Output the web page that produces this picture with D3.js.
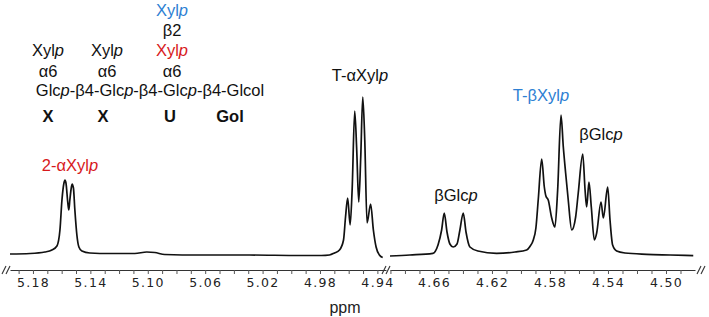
<!DOCTYPE html>
<html>
<head>
<meta charset="utf-8">
<script src="https://cdn.jsdelivr.net/npm/d3@7"></script>
<style>
  body { margin: 0; background: #fff; }
  text { font-family: "Liberation Sans", Arial, sans-serif; }
</style>
</head>
<body>
<script>
// spectrum: [ppm, intensity (a.u.)]
var leftSpectrum = [
    [5.196, 1], [5.182, 1.5], [5.1717, 3], [5.1668, 5], [5.1633, 9], [5.1612, 25],
    [5.1598, 55], [5.1584, 72], [5.1577, 75], [5.1570, 72], [5.1557, 52], [5.1550, 45],
    [5.1543, 55], [5.1532, 68], [5.1527, 71], [5.1518, 67], [5.1508, 45], [5.1494, 20],
    [5.1480, 8], [5.1459, 4], [5.1403, 2], [5.1264, 1.5], [5.1090, 1.5], [5.1007, 3],
    [5.0951, 2.5], [5.0882, 0.5], [5.0638, 0], [5.0290, 0], [4.9943, -0.5], [4.9790, -0.5],
    [4.9734, 0], [4.9699, 2], [4.9664, 5], [4.9636, 15], [4.9622, 38], [4.9607, 57],
    [4.9590, 30], [4.9576, 65], [4.9558, 144], [4.9544, 105], [4.9530, 53], [4.9516, 98],
    [4.9502, 158], [4.9488, 115], [4.9472, 32], [4.9447, 51], [4.9428, 25], [4.9409, 8],
    [4.9386, 0], [4.9363, -2.5]
];

var rightSpectrum = [
    [4.6903, -1], [4.6766, 0], [4.6607, 1.7], [4.6572, 10], [4.6547, 25], [4.6529, 42],
    [4.6510, 23], [4.6490, 11], [4.6467, 8], [4.6441, 11], [4.6421, 25], [4.6398, 42],
    [4.6379, 23], [4.6352, 8], [4.6297, 4], [4.6168, 1.7], [4.6041, 3], [4.5961, 5],
    [4.5938, 8.5], [4.5915, 15], [4.5897, 27], [4.5881, 55], [4.5857, 96], [4.5839, 68],
    [4.5828, 59], [4.5812, 55], [4.5788, 37], [4.5766, 28], [4.5747, 65], [4.5724, 140],
    [4.5708, 108], [4.5692, 82], [4.5674, 55], [4.5650, 25], [4.5623, 38], [4.5605, 62],
    [4.5574, 101], [4.5558, 65], [4.5547, 48], [4.5531, 73], [4.5515, 48], [4.5494, 15],
    [4.5478, 22], [4.5448, 53], [4.5432, 37], [4.5402, 68], [4.5386, 35], [4.5368, 10],
    [4.5340, 4], [4.5283, 2], [4.5133, 0.7], [4.4972, 0], [4.4812, -0.7]
];

var leftTickLabels = [5.18, 5.14, 5.10, 5.06, 5.02, 4.98, 4.94];
var rightTickLabels = [4.66, 4.62, 4.58, 4.54, 4.50];

var red = '#d7191c', blue = '#2e7fd3';

var svgWidth = 709, svgHeight = 317;
var axisY = 270;

var svg = d3.select('body')
    .append('svg')
    .attr('width', svgWidth)
    .attr('height', svgHeight);

// scales, one per axis segment
var xLeft = d3.scaleLinear().domain([5.196, 4.934]).range([10, 386]);
var xRight = d3.scaleLinear().domain([4.6903, 4.48]).range([390, 695]);
var yScale = d3.scaleLinear().domain([0, 158]).range([255, 97]);

function drawSegment(x, data, labels) {
    var minor = d3.range(Math.ceil(x.domain()[1] * 100), Math.floor(x.domain()[0] * 100) + 1)
        .map(d => d / 100);
    var axis = d3.axisBottom(x)
        .tickValues(minor)
        .tickSize(4)
        .tickSizeOuter(0)
        .tickFormat(d => labels.some(l => Math.abs(l - d) < 1e-6) ? d3.format('.2f')(d) : '');

    var g = svg.append('g')
        .attr('transform', `translate(0, ${ axisY })`)
        .call(axis);
    g.select('.domain').attr('stroke', '#333').attr('stroke-width', 1);
    g.selectAll('.tick line').attr('stroke', '#555');
    g.selectAll('.tick text')
        .attr('y', 8)
        .attr('fill', '#222')
        .style('font-family', '"DejaVu Sans", Verdana, sans-serif')
        .style('font-size', '12.5px')
        .style('letter-spacing', '1.3px');

    var line = d3.line()
        .x(d => x(d[0]))
        .y(d => yScale(d[1]))
        .curve(d3.curveMonotoneX);

    svg.append('path')
        .datum(data)
        .attr('fill', 'none')
        .attr('stroke', '#111')
        .attr('stroke-width', 1.7)
        .attr('stroke-linejoin', 'round')
        .attr('d', line);
}

drawSegment(xLeft, leftSpectrum, leftTickLabels);
drawSegment(xRight, rightSpectrum, rightTickLabels);

// axis break marks
function breakMark(x0) {
    [0, 4].forEach(off => {
        svg.append('line')
            .attr('x1', x0 + off).attr('y1', axisY + 4)
            .attr('x2', x0 + off + 4).attr('y2', axisY - 4)
            .attr('stroke', '#333')
            .attr('stroke-width', 1.1);
    });
}
breakMark(2);
breakMark(382);
breakMark(697);

svg.append('text')
    .attr('x', 345).attr('y', 313)
    .attr('text-anchor', 'middle')
    .style('font-size', '16px')
    .attr('fill', '#222')
    .text('ppm');

// text helper: parts are [string, italic?]
function label(x, y, parts, color, opts) {
    opts = opts || {};
    var t = svg.append('text')
        .attr('x', x).attr('y', y)
        .attr('text-anchor', 'middle')
        .attr('fill', color || '#111')
        .style('font-size', (opts.size || 16.5) + 'px')
        .style('font-weight', opts.bold ? 'bold' : 'normal');
    parts.forEach(p => {
        t.append('tspan')
            .style('font-style', p[1] ? 'italic' : 'normal')
            .text(p[0]);
    });
}

var xylp = [['Xyl'], ['p', true]];

// structure drawing
label(172, 16, xylp, blue);
label(172, 36, [['β2']]);
label(172, 56, xylp, red);
label(48, 56, xylp);
label(107, 56, xylp);
label(48, 77, [['α6']]);
label(107, 77, [['α6']]);
label(172, 77, [['α6']]);
label(150, 96, [['Glc'], ['p', true], ['-β4-Glc'], ['p', true], ['-β4-Glc'], ['p', true], ['-β4-Glcol']]);
label(48, 122, [['X']], null, { bold: true });
label(103, 122, [['X']], null, { bold: true });
label(170, 122, [['U']], null, { bold: true });
label(230, 122, [['Gol']], null, { bold: true });

// peak labels
label(70, 171, [['2-αXyl'], ['p', true]], red);
label(360, 81, [['T-αXyl'], ['p', true]]);
label(541, 101, [['T-βXyl'], ['p', true]], blue);
label(456, 201, [['βGlc'], ['p', true]]);
label(601, 140, [['βGlc'], ['p', true]]);
</script>
</body>
</html>
